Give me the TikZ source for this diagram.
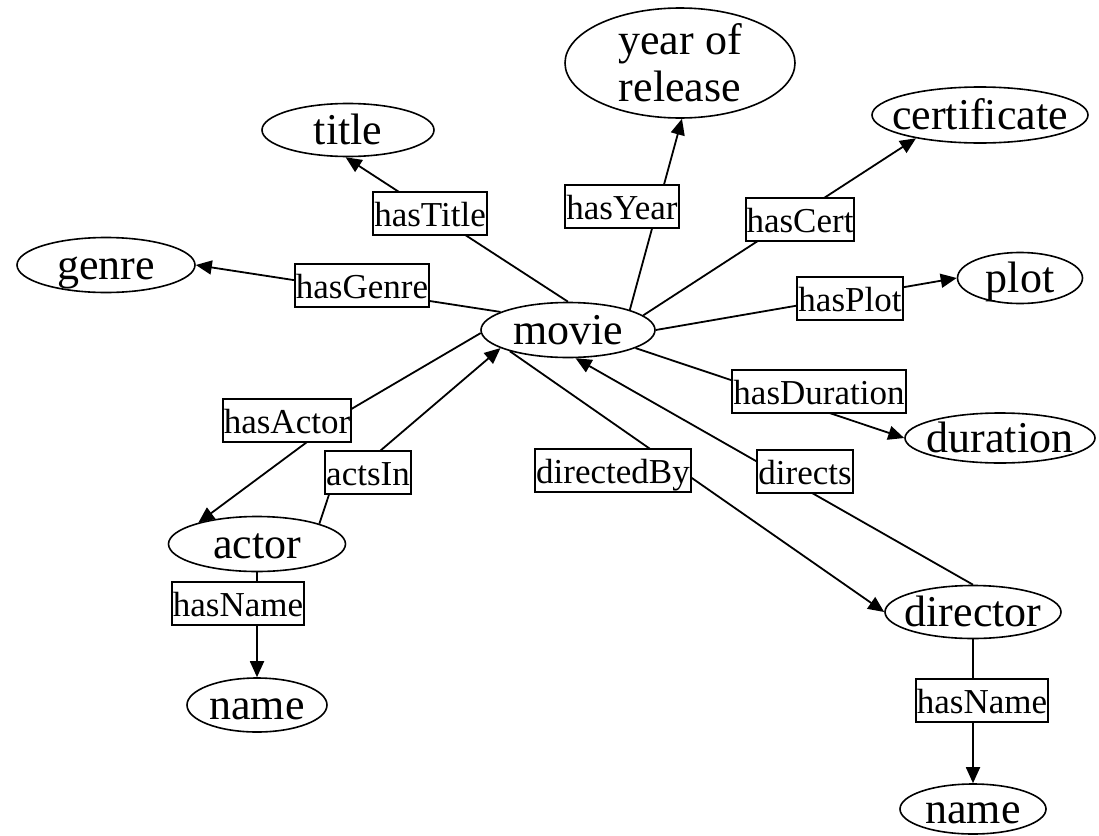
\documentclass[tikz,border=0pt]{standalone}
\usepackage{fontspec}
\setmainfont{Liberation Serif}
\usetikzlibrary{arrows.meta, shapes.geometric, backgrounds}
\tikzset{
  every picture/.style={line width=2pt},
  concept/.style={draw, ellipse, line width=1.6pt, inner sep=-15pt, align=center,
    text height=32pt, text depth=4pt, font=\fontsize{44}{47}\selectfont},
  rel/.style={draw, fill=white, line width=2pt, inner xsep=1pt, inner ysep=0pt,
    minimum height=43pt, text height=29pt, text depth=2pt, font=\fontsize{35}{38}\selectfont},
  arrow/.style={line width=1.8pt, -{Triangle[length=16pt, width=14pt]}},
}

\begin{document}
\begin{tikzpicture}[x=1pt, y=-1pt]
  \useasboundingbox (0,0) rectangle (1099,835);
  % classes and literals
  \node[concept, minimum width=174pt, minimum height=55pt] (movie) at (568,330) {movie};
  \node[concept, minimum width=230pt, minimum height=110pt, text height=, text depth=] (year) at (680,63) {year of\\release};
  \node[concept, minimum width=172pt, minimum height=53pt] (title) at (348,130) {title};
  \node[concept, minimum width=216pt, minimum height=56pt] (cert) at (980,115) {certificate};
  \node[concept, minimum width=178pt, minimum height=55pt] (genre) at (106,265) {genre};
  \node[concept, minimum width=125pt, minimum height=51pt] (plot) at (1020,278) {plot};
  \node[concept, minimum width=190pt, minimum height=50pt] (duration) at (1000,438) {duration};
  \node[concept, minimum width=177pt, minimum height=55pt] (actor) at (257,544) {actor};
  \node[concept, minimum width=140pt, minimum height=54pt] (name1) at (257,705) {name};
  \node[concept, minimum width=176pt, minimum height=53pt] (director) at (973,612) {director};
  \node[concept, minimum width=146pt, minimum height=50pt] (name2) at (973,809) {name};
  % property labels
  \foreach \n/\x/\y/\t in {hTitle/430/213/hasTitle, hYear/622/206/hasYear, hCert/800/219/hasCert,
      hGenre/362/285/hasGenre, hPlot/850/298/hasPlot, hDuration/819/391/hasDuration,
      hActor/287/420/hasActor, actsIn/368/472/actsIn, directedBy/613/470/directedBy,
      directs/805/471/directs, hName1/238/603/hasName, hName2/982/700/hasName}
    \node[rel] (\n) at (\x,\y) {\t};
  \begin{scope}[on background layer]
    \foreach \a/\b in {movie.90/title.-95, movie.18/year.-88, movie.11/cert.-160,
        movie.165/genre.east, movie.east/plot.west, movie.-15/duration.west,
        movie.-160/director.west, director.north/movie.-75,
        actor.south/name1.north, director.south/name2.north}
      \draw[arrow] (\a) -- (\b);
    \draw[arrow] (movie.182) -- (hActor.10) -- (actor.160);
    \draw[arrow] (actor.18) -- (actsIn.-150) -- (movie.-165);
  \end{scope}
\end{tikzpicture}
\end{document}
